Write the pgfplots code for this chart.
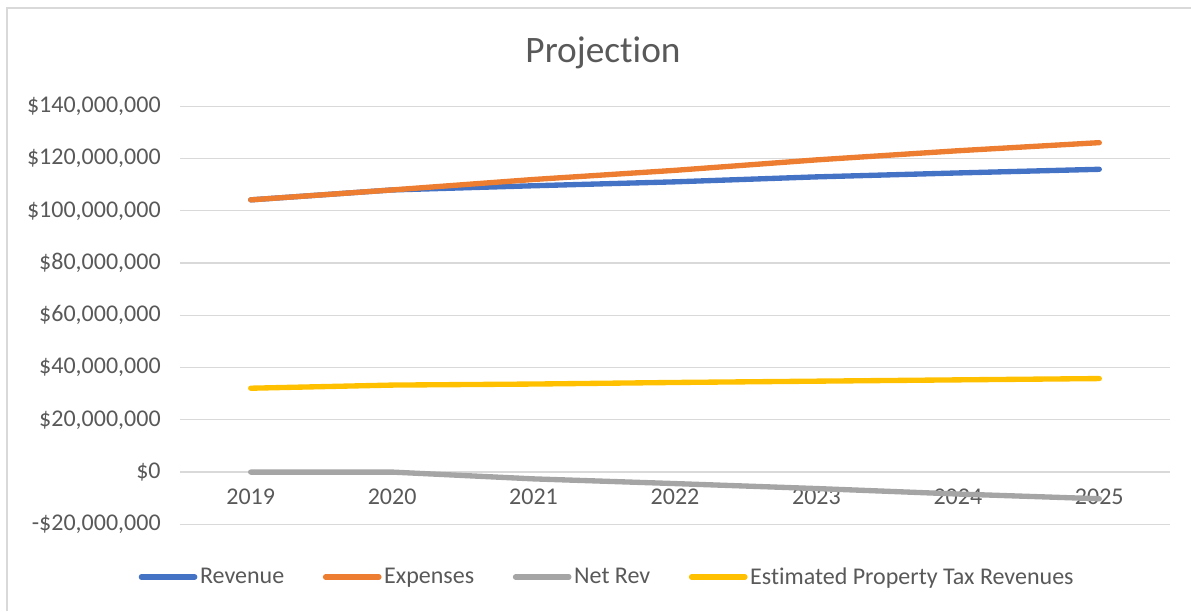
\documentclass[border=0pt]{standalone}
\usepackage{pgfplots}
\pgfplotsset{compat=1.18}
\usepackage{fontspec}
\setmainfont{Carlito}[Ligatures=NoCommon]
\definecolor{cRev}{HTML}{4472C4}
\definecolor{cExp}{HTML}{ED7D31}
\definecolor{cNet}{HTML}{A5A5A5}
\definecolor{cTax}{HTML}{FFC000}
\definecolor{cGrid}{HTML}{D9D9D9}
\definecolor{cText}{HTML}{595959}
\begin{document}
\begin{tikzpicture}
\path[use as bounding box] (0pt,0pt) rectangle (893.25pt,458.25pt);
\draw[cGrid, line width=1.5pt] (5.25pt,0pt) -- (5.25pt,452.25pt) -- (893.25pt,452.25pt);
\node[text=cText, font=\fontsize{28}{32}\selectfont] at (452.25pt,418.5pt) {Projection};
\begin{axis}[
  at={(135pt,65pt)}, anchor=south west,
  scale only axis, width=742.5pt, height=313.5pt,
  xmin=-0.5, xmax=6.5, ymin=-20, ymax=140,
  enlargelimits=false, clip=false,
  axis x line*=middle, axis y line*=left,
  y axis line style={draw=none},
  x axis line style={cGrid, line width=1pt, -},
  xtick={0,...,6},
  xticklabels={2019,2020,2021,2022,2023,2024,2025},
  ytick={-20,0,20,40,60,80,100,120,140},
  yticklabels={-\$20{,}000{,}000,\$0,\$20{,}000{,}000,\$40{,}000{,}000,\$60{,}000{,}000,\$80{,}000{,}000,\$100{,}000{,}000,\$120{,}000{,}000,\$140{,}000{,}000},
  major tick length=0pt,
  /pgf/number format/assume math mode=true,
  ticklabel style={text=cText, font=\fontsize{18}{22}\selectfont},
  yticklabel style={xshift=-11pt},
  xticklabel style={yshift=-9pt},
  ymajorgrids, major grid style={cGrid, line width=0.9pt},
  every axis plot/.append style={line width=4pt, line cap=round, line join=round, mark=none},
  legend style={draw=none, at={(0.4318,-0.126)}, anchor=center,
    font=\fontsize{18}{22}\selectfont, text=cText,
    /tikz/every odd column/.append style={column sep=0pt},
    /tikz/every even column/.append style={column sep=27pt}},
  legend columns=4,
  legend cell align=left,
  legend image code/.code={\draw[#1, line cap=round] (0pt,0pt) -- (40pt,0pt);},
]
\addplot[cRev] coordinates {(0,104.2) (1,108.0) (2,109.6) (3,111.1) (4,113.0) (5,114.5) (6,115.9)};
\addlegendentry{Revenue}
\addplot[cExp] coordinates {(0,104.2) (1,108.0) (2,112.0) (3,115.5) (4,119.5) (5,123.0) (6,126.1)};
\addlegendentry{Expenses}
\addplot[cNet] coordinates {(0,0) (1,0) (2,-2.6) (3,-4.4) (4,-6.3) (5,-8.4) (6,-10.2)};
\addlegendentry{Net Rev}
\addplot[cTax] coordinates {(0,32.1) (1,33.3) (2,33.7) (3,34.3) (4,34.8) (5,35.3) (6,35.8)};
\addlegendentry{Estimated Property Tax Revenues}
\end{axis}
\end{tikzpicture}
\end{document}
